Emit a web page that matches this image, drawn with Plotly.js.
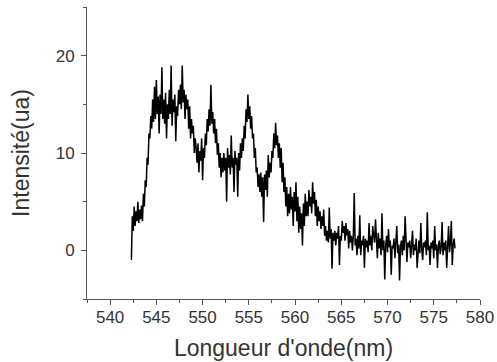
<!DOCTYPE html>
<html>
<head>
<meta charset="utf-8">
<script src="https://cdn.plot.ly/plotly-3.0.1.min.js"></script>
<style>html,body{margin:0;padding:0;background:#fff;}#chart{width:497px;height:362px;}</style>
</head>
<body>
<div id="chart"></div>
<script>
// Wavelength sampling (nm): first sample and spacing
const wavelengthStart = 542.3;
const wavelengthStep = 0.1;

// Intensity (ua), one row per nm
const intensity = [
  -1.0, 3.5, 2.0, 4.5, 2.5, 4.0, 3.0, 5.0, 2.8, 4.2,
  3.2, 4.6, 3.0, 5.8, 4.5, 7.2, 6.5, 9.5, 8.8, 12.0,
  11.5, 13.8, 12.5, 15.5, 13.2, 16.8, 13.5, 17.5, 14.0, 15.8,
  12.0, 16.0, 14.0, 18.8, 13.5, 15.5, 13.0, 16.2, 11.5, 15.0,
  13.5, 16.5, 14.0, 19.0, 12.8, 15.5, 14.2, 16.0, 11.2, 14.8,
  13.8, 16.5, 15.0, 17.0, 14.5, 19.0, 15.2, 16.5, 13.5, 16.0,
  14.5, 15.5, 12.5, 14.8, 11.5, 13.5, 12.0, 12.8, 10.0, 11.5,
  10.5, 9.0, 11.0, 8.0, 10.2, 9.2, 11.5, 7.2, 10.5, 9.5,
  12.0, 10.8, 13.5, 12.2, 14.5, 12.8, 17.0, 13.0, 14.2, 12.0,
  13.5, 11.0, 12.5, 9.8, 11.0, 8.5, 10.0, 7.5, 9.5, 8.0,
  10.0, 8.2, 9.5, 5.0, 10.5, 8.5, 9.8, 7.8, 11.8, 8.5,
  9.5, 6.0, 10.2, 8.8, 9.5, 5.5, 10.0, 8.2, 11.0, 9.5,
  11.5, 10.2, 12.8, 11.5, 14.5, 13.2, 16.0, 13.5, 14.8, 12.5,
  13.8, 11.5, 12.0, 9.5, 10.5, 8.0, 8.5, 6.5, 7.8, 6.0,
  8.0, 5.5, 7.5, 2.9, 7.8, 6.2, 8.2, 5.5, 9.8, 7.5,
  9.0, 8.0, 10.2, 9.5, 12.0, 10.5, 13.1, 10.8, 11.8, 9.5,
  11.0, 8.5, 10.5, 7.0, 9.0, 6.0, 7.5, 4.5, 6.5, 3.5,
  5.8, 3.8, 6.5, 4.2, 5.5, 2.5, 6.0, 4.0, 7.0, 3.0,
  5.5, 1.8, 4.5, 2.2, 3.8, 0.5, 4.8, 2.5, 5.8, 3.5,
  5.0, 3.5, 6.2, 4.5, 5.5, 3.8, 7.0, 4.8, 6.0, 3.5,
  5.2, 2.5, 4.5, 3.0, 4.0, 2.2, 3.5, 2.5, 4.2, 1.5,
  2.5, 1.0, 2.0, 0.8, 4.4, 1.2, 2.2, -1.9, 1.8, 1.0,
  2.0, 0.5, 1.8, 1.2, 2.5, -1.5, 1.5, 1.0, 3.0, 1.8,
  2.5, 1.0, 2.8, 1.5, 2.2, 0.2, 2.0, 0.8, 1.5, 0.0,
  1.5, 5.9, 0.5, 1.2, -0.5, 1.5, 0.2, 3.6, -0.5, 1.0,
  0.5, 1.5, -1.8, 1.2, 0.3, 1.0, -0.2, 2.8, 0.5, 1.5,
  0.0, 2.5, 1.5, 0.8, 3.2, 0.5, -0.8, 1.8, 0.2, 1.2,
  -0.5, 3.8, 0.0, 1.0, -3.0, 0.5, 1.5, -0.2, 2.2, 0.3,
  1.0, -2.5, 0.5, 0.2, 1.2, -0.8, 0.8, 2.5, -0.3, 0.6,
  -3.1, 0.4, 1.0, -0.5, 1.5, 0.0, 3.5, 0.2, -1.2, 0.8,
  0.3, 1.0, -0.8, 0.5, 2.0, -0.5, 0.6, 0.0, 1.2, -1.8,
  0.5, 1.0, -0.3, 2.8, 0.2, -1.0, 0.8, 0.3, 1.0, -0.5,
  3.9, 0.0, 0.5, -1.5, 0.8, 0.2, 1.0, -0.8, 2.5, 0.0,
  0.6, -1.8, 0.5, 1.0, -0.4, 0.3, 2.9, -0.5, 0.8, 0.0,
  1.0, -1.8, 0.4, 2.5, -0.2, 0.8, 3.0, -1.5, 0.5, 1.2,
  0.2
];

const xTickValues = [540, 545, 550, 555, 560, 565, 570, 575, 580];
const yTickValues = [0, 10, 20];
const xTitle = "Longueur d'onde(nm)";
const yTitle = "Intensité(ua)";

const font = "Liberation Sans, Arial, sans-serif";
const textColor = "#333333";
const axisColor = "#555555";

const trace = {
  type: 'scatter',
  mode: 'lines',
  y: intensity,
  x0: wavelengthStart,
  dx: wavelengthStep,
  line: {color: '#000000', width: 1.5},
  hoverinfo: 'skip'
};

const layout = {
  width: 497,
  height: 362,
  margin: {l: 87, r: 17, t: 7, b: 63},
  paper_bgcolor: '#ffffff',
  plot_bgcolor: '#ffffff',
  showlegend: false,
  font: {family: font, color: textColor},
  xaxis: {
    range: [537.5, 580],
    tickvals: xTickValues,
    ticktext: xTickValues.map(String),
    ticks: 'outside',
    ticklen: 5,
    tickwidth: 1,
    tickcolor: axisColor,
    showline: true,
    linecolor: axisColor,
    linewidth: 1,
    mirror: false,
    showgrid: false,
    zeroline: false,
    tickfont: {family: font, size: 17, color: textColor},
    ticklabelstandoff: -2,
    minor: {ticks: 'outside', ticklen: 3, dtick: 2.5, tick0: 537.5, tickcolor: axisColor, showgrid: false},
    title: {text: xTitle, font: {family: font, size: 23, color: textColor}, standoff: 13}
  },
  yaxis: {
    range: [-5, 25],
    tickvals: yTickValues,
    ticktext: yTickValues.map(String),
    ticks: 'outside',
    ticklen: 5,
    tickwidth: 1,
    tickcolor: axisColor,
    showline: true,
    linecolor: axisColor,
    linewidth: 1,
    mirror: false,
    showgrid: false,
    zeroline: false,
    tickfont: {family: font, size: 17, color: textColor},
    ticklabelstandoff: 3,
    minor: {ticks: 'outside', ticklen: 3, dtick: 5, tick0: -5, tickcolor: axisColor, showgrid: false},
    title: {text: yTitle, font: {family: font, size: 23, color: textColor}, standoff: 19}
  }
};

Plotly.newPlot('chart', [trace], layout, {displayModeBar: false, staticPlot: true});
</script>
</body>
</html>
